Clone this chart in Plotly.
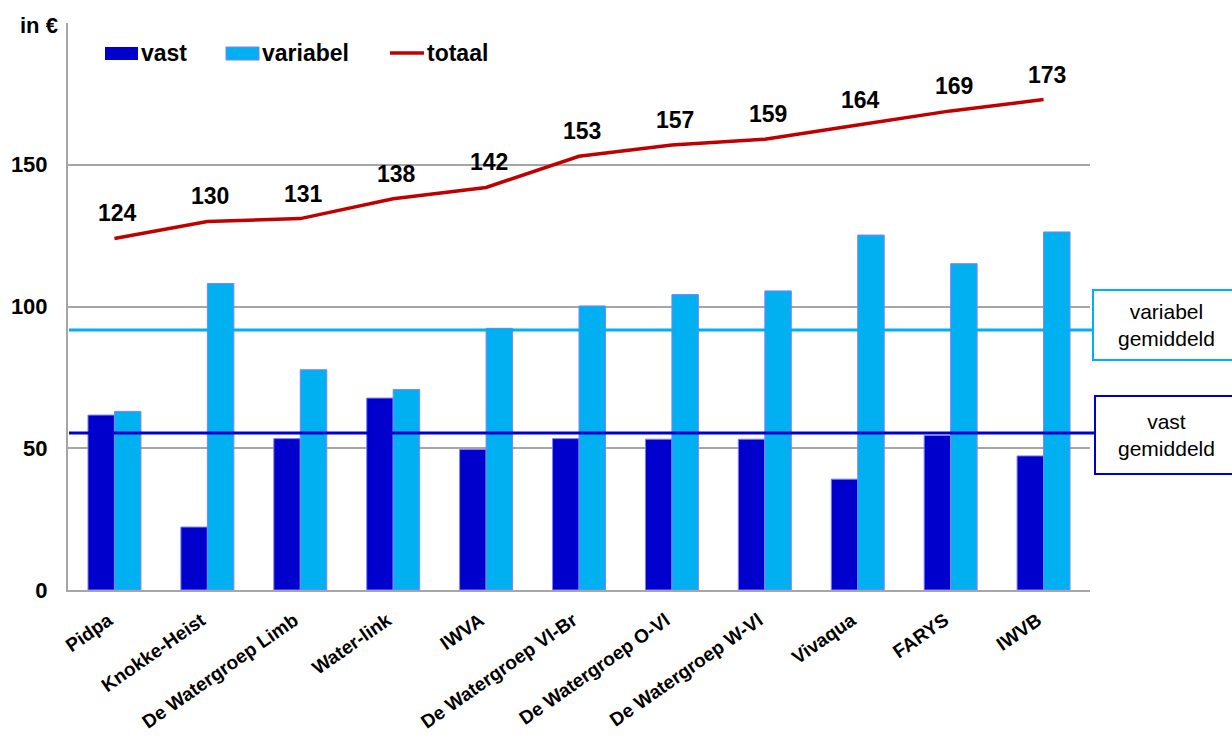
import plotly.graph_objects as go

categories = ["Pidpa", "Knokke-Heist", "De Watergroep Limb", "Water-link", "IWVA",
              "De Watergroep Vl-Br", "De Watergroep O-Vl", "De Watergroep W-Vl",
              "Vivaqua", "FARYS", "IWVB"]
vast = [61.7, 22.2, 53.4, 67.7, 49.6, 53.4, 53.2, 53.2, 39.1, 54.5, 47.3]
variabel = [63.0, 108.1, 77.7, 70.7, 92.3, 100.2, 104.2, 105.5, 125.2, 115.1, 126.3]
totaal = [124, 130, 131, 138, 142, 153, 157, 159, 164, 169, 173]
vast_gemiddeld = 55.4
variabel_gemiddeld = 91.7
y_ticks = [0, 50, 100, 150, 200]
y_tick_labels = ["0", "50", "100", "150", ""]

FONT = "Liberation Sans, Arial, sans-serif"
DARK = "#0000CC"
LIGHT = "#00B0F0"
RED = "#C00000"
GRID = "#A6A6A6"

fig = go.Figure()
fig.add_trace(go.Bar(x=categories, y=vast, name="vast", marker=dict(color=DARK, line=dict(color="#8080FF", width=1))))
fig.add_trace(go.Bar(x=categories, y=variabel, name="variabel", marker=dict(color=LIGHT, line=dict(color="#8080FF", width=1))))
fig.add_trace(go.Scatter(x=categories, y=totaal, name="totaal", mode="lines", line=dict(color=RED, width=3.5)))

for c, t in zip(categories, totaal):
    fig.add_annotation(x=c, y=t, text=f"<b>{t}</b>", showarrow=False, yanchor="middle",
                       yshift=25, xshift=3, font=dict(family=FONT, size=23, color="black"))

L, R, T, B = 68, 142, 23, 150
W, H = 1232, 740
pw, ph = W - L - R, H - T - B

def px(x):
    return (x - L) / pw

def py(y):
    return (H - B - y) / ph

shapes = []
# average lines
shapes.append(dict(type="line", xref="paper", yref="y", x0=px(69), x1=px(1093), y0=variabel_gemiddeld, y1=variabel_gemiddeld, line=dict(color=LIGHT, width=3)))
shapes.append(dict(type="line", xref="paper", yref="y", x0=px(69), x1=px(1095), y0=vast_gemiddeld, y1=vast_gemiddeld, line=dict(color=DARK, width=3)))
# boxes
shapes.append(dict(type="rect", xref="paper", yref="paper", x0=px(1093), x1=px(1240), y0=py(290), y1=py(360), line=dict(color=LIGHT, width=2), fillcolor="white"))
shapes.append(dict(type="rect", xref="paper", yref="paper", x0=px(1095), x1=px(1240), y0=py(396), y1=py(474), line=dict(color=DARK, width=2), fillcolor="white"))
# legend
shapes.append(dict(type="rect", xref="paper", yref="paper", x0=px(105), x1=px(138), y0=py(47), y1=py(60), line=dict(width=0), fillcolor=DARK))
shapes.append(dict(type="rect", xref="paper", yref="paper", x0=px(226), x1=px(259), y0=py(47), y1=py(60), line=dict(color="#8080FF", width=1), fillcolor=LIGHT))
shapes.append(dict(type="line", xref="paper", yref="paper", x0=px(390), x1=px(424), y0=py(53), y1=py(53), line=dict(color=RED, width=3.5)))

ann = [
    dict(text="<b>vast</b>", x=px(139), y=py(53)),
    dict(text="<b>variabel</b>", x=px(260), y=py(53)),
    dict(text="<b>totaal</b>", x=px(425), y=py(53)),
]
for a in ann:
    fig.add_annotation(xref="paper", yref="paper", xanchor="left", yanchor="middle", showarrow=False,
                       font=dict(family=FONT, size=23, color="black"), **a)
fig.add_annotation(xref="paper", yref="paper", x=px(1166), y=py(325), text="variabel<br>gemiddeld",
                   showarrow=False, xanchor="center", yanchor="middle",
                   font=dict(family=FONT, size=21, color="black"))
fig.add_annotation(xref="paper", yref="paper", x=px(1166), y=py(435), text="vast<br>gemiddeld",
                   showarrow=False, xanchor="center", yanchor="middle",
                   font=dict(family=FONT, size=21, color="black"))
fig.add_annotation(xref="paper", yref="paper", x=px(60), y=py(25), text="<b>in €</b>",
                   showarrow=False, xanchor="right", yanchor="middle",
                   font=dict(family=FONT, size=22, color="black"))

fig.update_layout(
    width=W, height=H,
    margin=dict(l=L, r=R, t=T, b=B, autoexpand=False),
    paper_bgcolor="white", plot_bgcolor="white",
    barmode="group", bargap=0.43, bargroupgap=0,
    showlegend=False,
    shapes=shapes,
    font=dict(family=FONT, color="black"),
)
fig.update_xaxes(showline=True, linecolor=GRID, linewidth=2, showgrid=False, tickangle=-35,
                 tickfont=dict(family=FONT, size=19, color="black"), ticks="",
                 tickprefix="<b>", ticksuffix="</b>", ticklabelstandoff=10, ticklabelshift=-6)
fig.update_yaxes(range=[0, 200], tickvals=y_ticks, ticktext=[f"<b>{t}</b>" for t in y_tick_labels],
                 showgrid=True, gridcolor=GRID, gridwidth=1.5, showline=True, linecolor=GRID, linewidth=2,
                 zeroline=False, tickfont=dict(family=FONT, size=22, color="black"), ticks="",
                 ticklabelstandoff=14)

fig.write_html("out.html")
